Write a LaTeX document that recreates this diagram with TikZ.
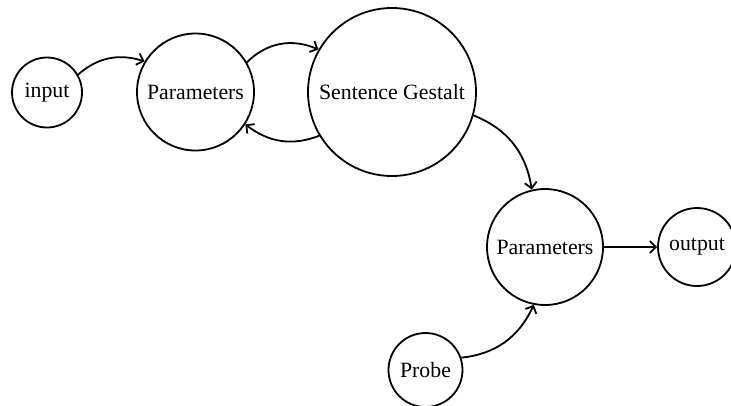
\documentclass[tikz,border=0pt]{standalone}
\usepackage{fontspec}
\setmainfont{Liberation Serif}
\usetikzlibrary{arrows.meta,bending}
\begin{document}
\begin{tikzpicture}[x=1pt,y=1pt,
  nd/.style={draw,circle,line width=1.8pt,inner sep=0pt,font=\fontsize{21.8}{26}\selectfont},
  ed/.style={-{Straight Barb[length=6pt,width=12pt,line width=1.8pt]},line width=1.8pt}]
\useasboundingbox (0,0) rectangle (731,-405);
\node[nd,minimum size=70pt] (in) at (47,-92.5) {input};
\node[nd,minimum size=117pt] (p1) at (195.5,-92) {Parameters};
\node[nd,minimum size=168pt] (sg) at (392,-92) {Sentence Gestalt};
\node[nd,minimum size=116pt] (p2) at (545,-247) {Parameters};
\node[nd,minimum size=78pt] (out) at (697,-247) {output};
\node[nd,minimum size=74pt] (pr) at (425.5,-370) {Probe};
\draw[ed] (in.30) to[bend left=30] (p1.149);
\draw[ed] (p1.30) to[bend left=35] (sg.150);
\draw[ed] (sg.211) to[bend left=30] (p1.327);
\draw[ed] (sg.-16) to[bend left=30] (p2.103);
\draw[ed] (pr.19) to[bend right=30] (p2.259);
\draw[ed] (p2) -- (out);
\end{tikzpicture}
\end{document}
